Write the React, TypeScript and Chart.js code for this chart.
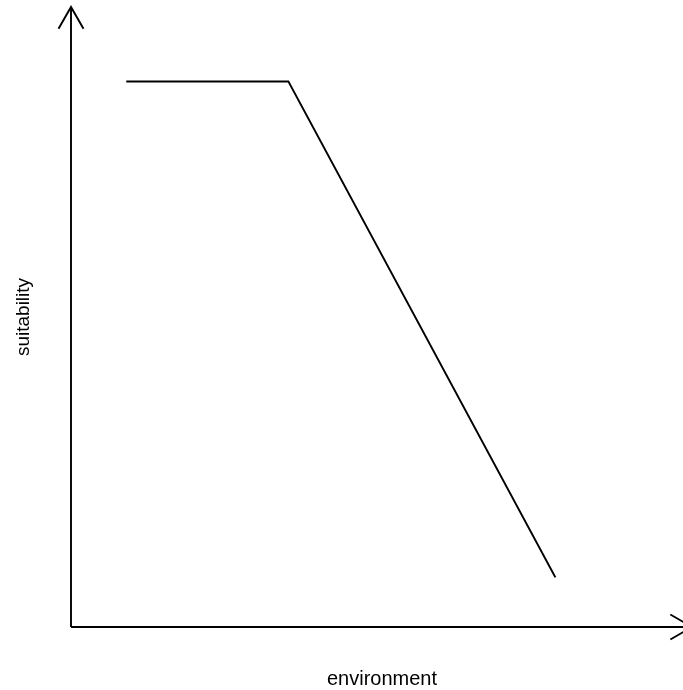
import React, { useEffect, useRef } from "react";
import { Chart, registerables } from "chart.js";

Chart.register(...registerables);

const environment = [0.89, 3.5, 7.8];
const suitability = [8.8, 8.8, 0.8];
const xTitle = "environment";
const yTitle = "suitability";

const axisArrows = {
  id: "axisArrows",
  afterDraw(chart: any) {
    const { ctx, chartArea } = chart;
    const { left, right, top, bottom } = chartArea;
    ctx.save();
    ctx.strokeStyle = "#000";
    ctx.lineWidth = 1.9;
    ctx.lineCap = "butt";
    // axes
    ctx.beginPath();
    ctx.moveTo(left, bottom);
    ctx.lineTo(left, top);
    ctx.moveTo(left, bottom);
    ctx.lineTo(right, bottom);
    ctx.stroke();
    // arrowheads
    const len = 25;
    const ang = Math.PI / 6;
    ctx.beginPath();
    ctx.moveTo(left - len * Math.sin(ang), top + len * Math.cos(ang));
    ctx.lineTo(left, top);
    ctx.lineTo(left + len * Math.sin(ang), top + len * Math.cos(ang));
    ctx.moveTo(right - len * Math.cos(ang), bottom - len * Math.sin(ang));
    ctx.lineTo(right, bottom);
    ctx.lineTo(right - len * Math.cos(ang), bottom + len * Math.sin(ang));
    ctx.stroke();
    // titles
    ctx.fillStyle = "#000";
    ctx.textAlign = "center";
    ctx.textBaseline = "alphabetic";
    ctx.font = "20px 'Liberation Sans', Arial, sans-serif";
    ctx.fillText(xTitle, 382, bottom + 58);
    ctx.font = "19px 'Liberation Sans', Arial, sans-serif";
    ctx.translate(29, (top + bottom) / 2);
    ctx.rotate(-Math.PI / 2);
    ctx.fillText(yTitle, 0, 0);
    ctx.restore();
  },
};

export default function App() {
  const ref = useRef<HTMLCanvasElement>(null);
  useEffect(() => {
    if (!ref.current) return;
    const chart = new Chart(ref.current, {
      type: "line",
      data: {
        datasets: [
          {
            data: environment.map((x, i) => ({ x, y: suitability[i] })),
            borderColor: "#000",
            borderWidth: 2,
            pointRadius: 0,
            tension: 0,
            fill: false,
          },
        ],
      },
      options: {
        responsive: false,
        animation: false,
        clip: false as any,
        layout: { padding: { left: 71, right: 0, top: 7, bottom: 63 } },
        plugins: { legend: { display: false }, tooltip: { enabled: false } },
        scales: {
          x: { type: "linear", min: 0, max: 10, display: false },
          y: { type: "linear", min: 0, max: 10, display: false },
        },
      },
      plugins: [axisArrows],
    });
    return () => chart.destroy();
  }, []);
  return (
    <div
      style={{
        position: "absolute",
        left: 0,
        top: 0,
        width: 683,
        height: 690,
        overflow: "hidden",
        background: "#fff",
      }}
    >
      <canvas ref={ref} width={692} height={690} style={{ display: "block" }} />
    </div>
  );
}
